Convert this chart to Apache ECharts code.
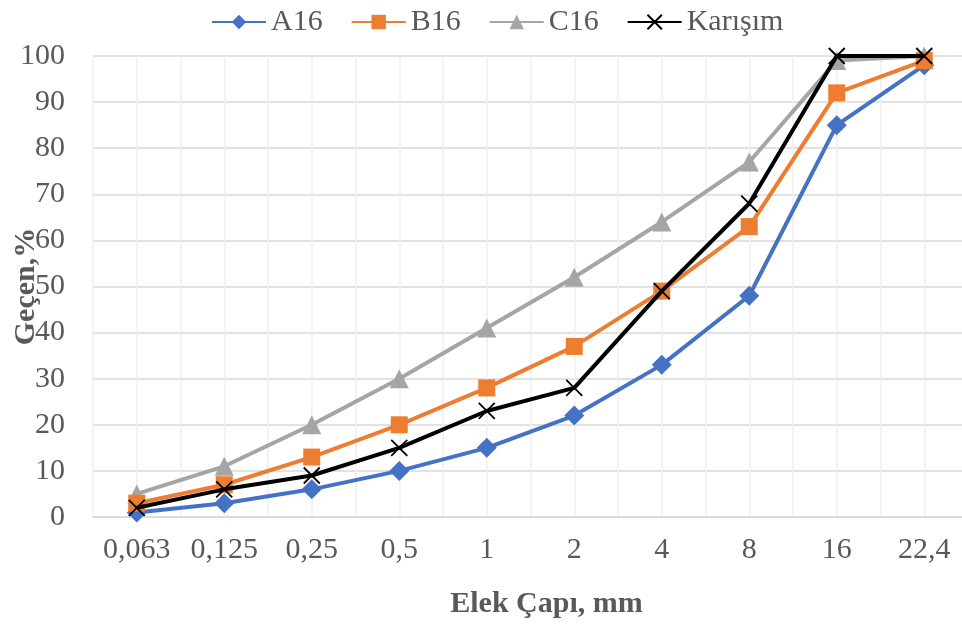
<!DOCTYPE html>
<html>
<head>
<meta charset="utf-8">
<script src="https://cdn.jsdelivr.net/npm/echarts@6/dist/echarts.min.js"></script>
<style>
  html, body { margin: 0; padding: 0; background: #fff; }
  #chart { width: 962px; height: 624px; }
</style>
</head>
<body>
<div id="chart"></div>
<script>
const categories = ["0,063", "0,125", "0,25", "0,5", "1", "2", "4", "8", "16", "22,4"];
const a16 = [1, 3, 6, 10, 15, 22, 33, 48, 85, 98];
const b16 = [3, 7, 13, 20, 28, 37, 49, 63, 92, 99];
const c16 = [5, 11, 20, 30, 41, 52, 64, 77, 99, 100];
const karisim = [2, 6, 9, 15, 23, 28, 49, 68, 100, 100];
const yTicks = { min: 0, max: 100, interval: 10 };

// half-step grid lines (Excel draws them at centres and boundaries)
const halfSteps = [];
for (let i = 0; i < categories.length * 2; i++) halfSteps.push("");

const font = "'Liberation Serif', 'Times New Roman', serif";
const crossPath = "path://M0,0L10,10M10,0L0,10";

const chart = echarts.init(document.getElementById("chart"));

chart.setOption({
  textStyle: { fontFamily: font },
  grid: { left: 93, right: -6, top: 56, bottom: 107, outerBoundsMode: "none" },
  legend: {
    left: 206,
    top: 2,
    itemWidth: 54,
    itemHeight: 18,
    itemGap: 28,
    textStyle: { fontFamily: font, fontSize: 30, color: "#595959" },
    data: ["A16", "B16", "C16", "Karışım"]
  },
  xAxis: [
    {
      type: "category",
      data: categories,
      boundaryGap: true,
      name: "Elek Çapı, mm",
      nameLocation: "middle",
      nameGap: 72,
      nameMoveOverlap: false,
      nameTextStyle: {
        fontFamily: font,
        fontSize: 30,
        fontWeight: "bold",
        color: "#595959",
        padding: [0, 0, 0, 32]
      },
      axisLine: { lineStyle: { color: "#d9d9d9", width: 1.5 } },
      axisTick: { show: false },
      axisLabel: { interval: 0, margin: 18, fontFamily: font, fontSize: 30, color: "#595959" },
      splitLine: { show: false }
    },
    {
      type: "category",
      data: halfSteps,
      boundaryGap: true,
      position: "bottom",
      axisLine: { show: false },
      axisTick: { show: false },
      axisLabel: { show: false },
      splitLine: { show: true, interval: 0, lineStyle: { color: "#efefef", width: 1.5 } }
    }
  ],
  yAxis: {
    type: "value",
    min: yTicks.min,
    max: yTicks.max,
    interval: yTicks.interval,
    name: "Geçen,%",
    nameLocation: "middle",
    nameGap: 52,
    nameMoveOverlap: false,
    nameTextStyle: { fontFamily: font, fontSize: 30, fontWeight: "bold", color: "#595959" },
    axisLine: { show: false },
    axisTick: { show: false },
    axisLabel: { margin: 28, fontFamily: font, fontSize: 30, color: "#595959" },
    splitLine: { lineStyle: { color: "#d9d9d9", width: 1.5 } }
  },
  series: [
    {
      name: "A16",
      type: "line",
      data: a16,
      symbol: "diamond",
      symbolSize: 20,
      itemStyle: { color: "#4472C4" },
      lineStyle: { color: "#4472C4", width: 4 },
      z: 2
    },
    {
      name: "B16",
      type: "line",
      data: b16,
      symbol: "rect",
      symbolSize: 17,
      itemStyle: { color: "#ED7D31" },
      lineStyle: { color: "#ED7D31", width: 4 },
      z: 3
    },
    {
      name: "C16",
      type: "line",
      data: c16,
      symbol: "triangle",
      symbolSize: 19,
      itemStyle: { color: "#A5A5A5" },
      lineStyle: { color: "#A5A5A5", width: 4 },
      z: 1
    },
    {
      name: "Karışım",
      type: "line",
      data: karisim,
      symbol: crossPath,
      symbolSize: 16,
      itemStyle: { color: "rgba(0,0,0,0)", borderColor: "#000", borderWidth: 1.8 },
      lineStyle: { color: "#000", width: 4 },
      z: 4
    }
  ]
});

window.addEventListener("resize", () => {
  chart && chart.resize();
});
</script>
</body>
</html>
